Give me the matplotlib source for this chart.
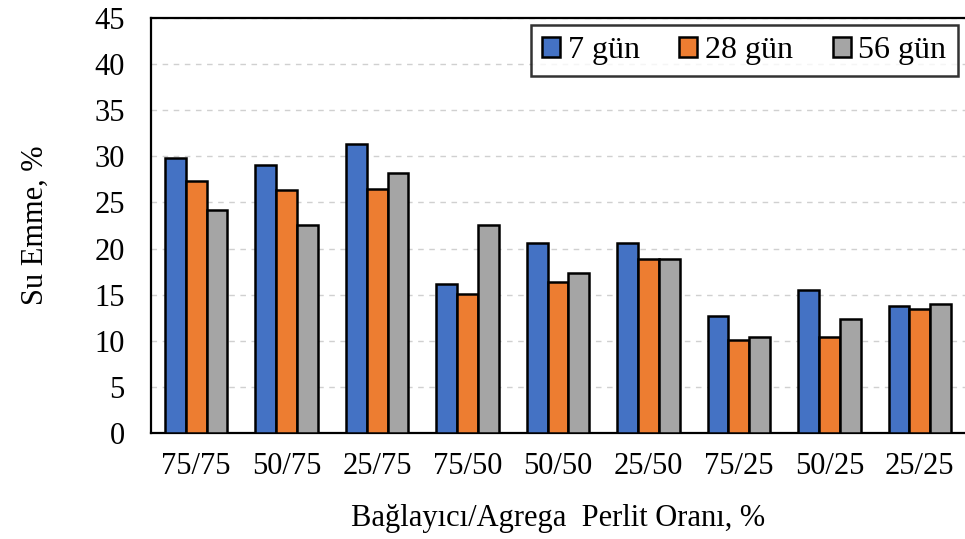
import numpy as np
import matplotlib.pyplot as plt

# Veriler
categories = ['75/75', '50/75', '25/75', '75/50', '50/50', '25/50', '75/25', '50/25', '25/25']
gun7 = [29.8, 29.1, 31.3, 16.1, 20.6, 20.6, 12.7, 15.5, 13.8]
gun28 = [27.3, 26.3, 26.5, 15.1, 16.4, 18.9, 10.1, 10.4, 13.4]
gun56 = [24.2, 22.6, 28.2, 22.5, 17.3, 18.9, 10.4, 12.4, 14.0]
series_labels = ['7 gün', '28 gün', '56 gün']

plt.rcParams['font.family'] = ['Liberation Serif', 'DejaVu Serif']

fig = plt.figure(figsize=(9.65, 5.39), dpi=100)
ax = fig.add_axes([0.1565, 0.1967, 0.8435, 0.77])

x = np.arange(len(categories))
w = 0.23
colors = ['#4472c4', '#ed7d31', '#a5a5a5']
for i, (vals, lab) in enumerate(zip([gun7, gun28, gun56], series_labels)):
    ax.bar(x + (i - 1) * w, vals, width=w, color=colors[i], edgecolor='black',
           linewidth=1.8, label=lab, zorder=3)

ax.set_xlim(-0.5, len(categories) - 0.5)
ax.set_ylim(0, 45)
ax.set_yticks(np.arange(0, 46, 5))
ax.set_xticks(x)
ax.set_xticklabels(categories)
ax.tick_params(axis='both', length=0, labelsize=22)
ax.tick_params(axis='x', pad=14)
ax.tick_params(axis='y', pad=19)
ax.yaxis.grid(True, linestyle=(0, (4, 4)), color='#d0d0d0', linewidth=1, zorder=0)

for s in ['left', 'bottom', 'top']:
    ax.spines[s].set_linewidth(1.6)
ax.spines['right'].set_visible(False)

ax.set_xlabel('Bağlayıcı/Agrega  Perlit Oranı, %', fontsize=22, labelpad=16)
ax.set_ylabel('Su Emme, %', fontsize=22, labelpad=32)

leg = ax.legend(loc='upper right', ncol=3, fontsize=23, frameon=True, fancybox=False,
                edgecolor='black', handlelength=0.55, handleheight=0.55, handletextpad=0.25,
                columnspacing=1.25, borderpad=0.35, borderaxespad=0,
                bbox_to_anchor=(0.991, 0.983))
leg.get_frame().set_linewidth(1.8)

fig.savefig('out.png', dpi=100)
